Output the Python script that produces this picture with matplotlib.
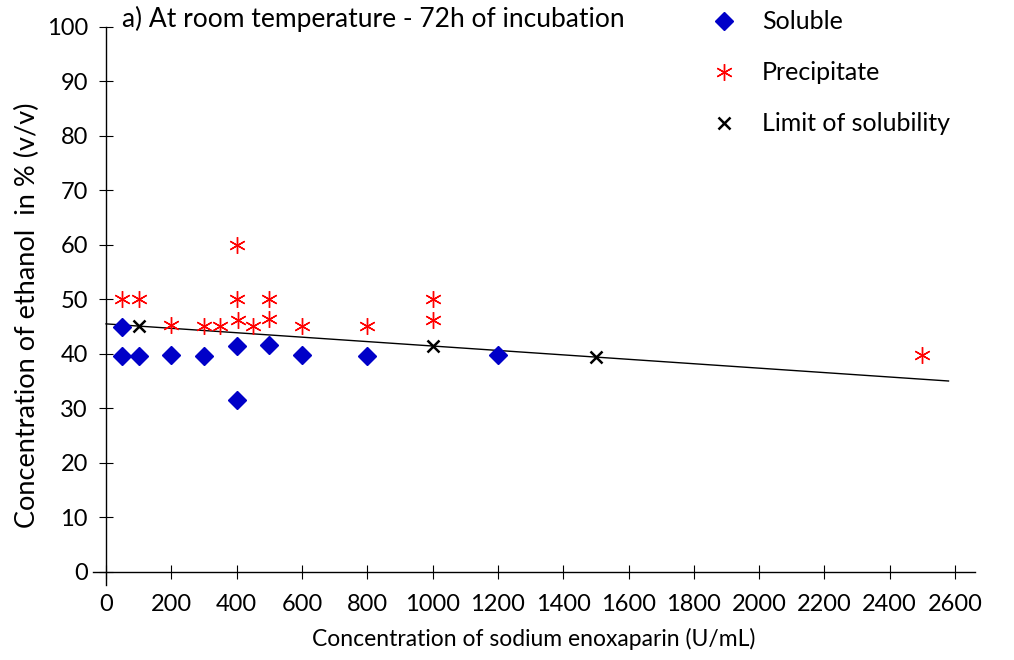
import numpy as np
import matplotlib
matplotlib.use("Agg")
import matplotlib.pyplot as plt

plt.rcParams['font.family'] = ['Lato', 'DejaVu Sans']

# Data
sol_x = [50, 50, 100, 200, 300, 400, 400, 500, 600, 800, 1200]
sol_y = [45.0, 39.7, 39.7, 39.9, 39.7, 41.4, 31.5, 41.7, 39.9, 39.7, 39.8]

pre_x = [50, 100, 200, 300, 350, 400, 400, 405, 450, 500, 500, 600, 800, 1000, 1000, 2500]
pre_y = [50, 50, 45.3, 45.1, 45.1, 60, 50, 46.3, 45.2, 50, 46.4, 45.2, 45.2, 50, 46.2, 39.8]

lim_x = [100, 1000, 1500]
lim_y = [45.1, 41.5, 39.4]

xticks = list(range(0, 2601, 200))
yticks = list(range(0, 101, 10))

fig = plt.figure(figsize=(10.14, 6.6), dpi=100)
ax = fig.add_axes([0.0917, 0.1136, 0.8698, 0.8455])

# trendline through the solubility limits
slope, icpt = np.polyfit(lim_x, lim_y, 1)
tx = np.array([0, 2580])
ax.plot(tx, slope * tx + icpt, color="black", lw=1)

ax.plot(sol_x, sol_y, "D", color="#0000C8", ms=9.5, ls="none", label="Soluble")
ax.plot(pre_x, pre_y, marker=(6, 2, 0), color="#FF0000", ms=12, mew=1, ls="none", label="Precipitate")
ax.plot(lim_x, lim_y, "x", color="black", ms=9, mew=1.8, ls="none", label="Limit of solubility")

ax.set_xlim(-40, 2661)
ax.set_ylim(-2.4, 100)
ax.spines['left'].set_position(('data', 0))
ax.spines['bottom'].set_position(('data', 0))
ax.spines['right'].set_visible(False)
ax.spines['top'].set_visible(False)
ax.set_xticks(xticks)
ax.set_yticks(yticks)
ax.tick_params(axis="x", direction="inout", length=10, labelsize=17, pad=11)
ax.tick_params(axis="y", direction="inout", length=10, labelsize=17, pad=8)
for s in ax.spines.values():
    s.set_linewidth(1)

ax.text(50, 101.5, "a) At room temperature - 72h of incubation", fontsize=19, va="center", ha="left")
ax.set_xlabel("Concentration of sodium enoxaparin (U/mL)", fontsize=16.5, labelpad=9)
fig.text(0.027, 0.523, "Concentration of ethanol  in % (v/v)", fontsize=19.5, rotation=90, va="center", ha="center")

ax.legend(loc="upper left", bbox_to_anchor=(0.662, 1.07), frameon=False, fontsize=18,
          labelspacing=1.12, handletextpad=0.5, numpoints=1)

fig.savefig("out.png", dpi=100)
